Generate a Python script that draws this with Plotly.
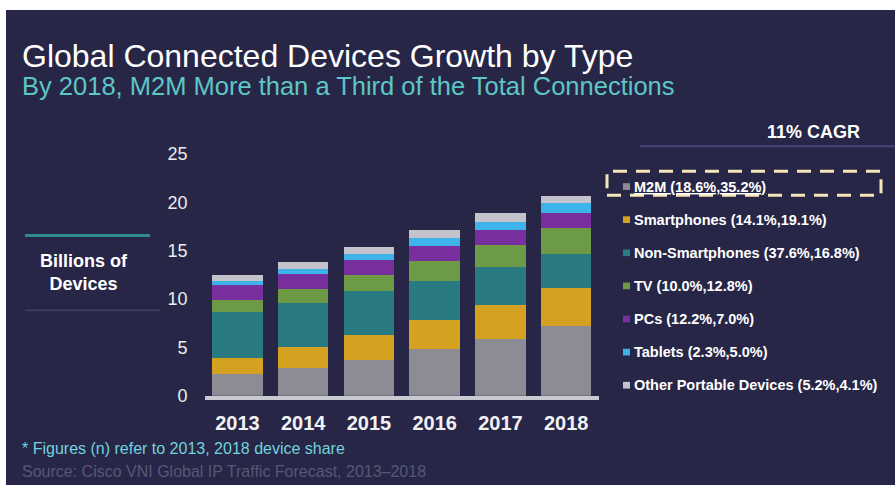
import plotly.graph_objects as go

# ---------------- data ----------------
years = ["2013", "2014", "2015", "2016", "2017", "2018"]
series_names = ["M2M", "Smartphones", "Non-Smartphones", "TV", "PCs", "Tablets", "Other Portable Devices"]
m2m = [2.3, 2.9, 3.7, 4.8, 5.9, 7.2]
smartphones = [1.6, 2.1, 2.6, 3.0, 3.5, 3.9]
non_smartphones = [4.8, 4.6, 4.5, 4.1, 3.9, 3.6]
tv = [1.2, 1.4, 1.7, 2.0, 2.3, 2.6]
pcs = [1.6, 1.6, 1.5, 1.6, 1.5, 1.6]
tablets = [0.4, 0.5, 0.7, 0.8, 0.9, 1.0]
other_portable = [0.6, 0.7, 0.7, 0.8, 0.9, 0.8]
share_2013 = [18.6, 14.1, 37.6, 10.0, 12.2, 2.3, 5.2]
share_2018 = [35.2, 19.1, 16.8, 12.8, 7.0, 5.0, 4.1]
total_labels = {"2013": "12", "2018": "21"}
y_ticks = [0, 5, 10, 15, 20, 25]

series_values = [m2m, smartphones, non_smartphones, tv, pcs, tablets, other_portable]
colors = ["#8d8c95", "#d4a120", "#2a7a82", "#6d9a44", "#7a2f9f", "#3eb3ea", "#c4c3cb"]

BG = "#272647"
W, H = 895, 495
FONT = "Liberation Sans, Arial"


def px(x):
    return x / W


def py(y):
    return 1 - y / H


fig = go.Figure()
for name, vals, col in zip(series_names, series_values, colors):
    fig.add_trace(go.Bar(x=years, y=vals, name=name, marker=dict(color=col, line=dict(width=0)),
                         showlegend=False, hoverinfo="y+name"))

totals = [sum(v[i] for v in series_values) for i in range(len(years))]

shapes = []
annotations = []

# dark background panel (white strip on the left edge)
shapes.append(dict(type="rect", xref="paper", yref="paper", x0=px(6), x1=1, y0=0, y1=1,
                   fillcolor=BG, line=dict(width=0), layer="below"))

# total labels above bars
for i, yr in enumerate(years):
    if yr in total_labels:
        annotations.append(dict(x=yr, y=totals[i], xref="x", yref="y", text="<b>%s</b>" % total_labels[yr],
                                showarrow=False, yanchor="bottom", yshift=8, xshift=-10,
                                font=dict(family=FONT, size=29, color="#ffffff")))

# title and subtitle
annotations.append(dict(x=px(20), y=py(48), xref="paper", yref="paper", xanchor="left", yanchor="middle",
                        text="Global Connected Devices Growth by Type", showarrow=False,
                        font=dict(family=FONT, size=32, color="#ffffff")))
annotations.append(dict(x=px(20), y=py(79), xref="paper", yref="paper", xanchor="left", yanchor="middle",
                        text="By 2018, M2M More than a Third of the Total Connections", showarrow=False,
                        font=dict(family=FONT, size=25.5, color="#5ec6c4")))

# Billions of Devices label + decorative lines
annotations.append(dict(x=px(84), y=py(274), xref="paper", yref="paper", xanchor="center", yanchor="middle",
                        text="<b>Billions of<br>Devices</b>", showarrow=False,
                        font=dict(family=FONT, size=18, color="#ffffff")))
shapes.append(dict(type="line", xref="paper", yref="paper", x0=px(25), x1=px(150), y0=py(235), y1=py(235),
                   line=dict(color="#2b8b91", width=3)))
shapes.append(dict(type="line", xref="paper", yref="paper", x0=px(25), x1=px(160), y0=py(313), y1=py(313),
                   line=dict(color="#3b3a62", width=2)))

# CAGR header
annotations.append(dict(x=px(813), y=py(127), xref="paper", yref="paper", xanchor="center", yanchor="middle",
                        text="<b>11% CAGR</b>", showarrow=False,
                        font=dict(family=FONT, size=18, color="#ffffff")))
shapes.append(dict(type="line", xref="paper", yref="paper", x0=px(640), x1=1, y0=py(142), y1=py(142),
                   line=dict(color="#46467a", width=2)))

# custom legend
for i, (name, col) in enumerate(zip(series_names, colors)):
    yc = 184 + i * 34.5
    label = "%s (%.1f%%,%.1f%%)" % (name, share_2013[i], share_2018[i])
    if i == 0:
        label = "<u>" + label + "</u>"
    shapes.append(dict(type="rect", xref="paper", yref="paper", x0=px(623), x1=px(630),
                       y0=py(yc + 3.5), y1=py(yc - 3.5), fillcolor=col, line=dict(width=0)))
    annotations.append(dict(x=px(632), y=py(yc), xref="paper", yref="paper", xanchor="left", yanchor="middle",
                            text="<b>%s</b>" % label, showarrow=False,
                            font=dict(family=FONT, size=14.5, color="#ffffff")))

# dashed highlight box around M2M
shapes.append(dict(type="rect", xref="paper", yref="paper", x0=px(607), x1=px(881), y0=py(193), y1=py(168),
                   line=dict(color="#f6e6b9", width=3, dash="14px,9px"), fillcolor="rgba(0,0,0,0)"))

# footnotes
annotations.append(dict(x=px(20), y=py(457), xref="paper", yref="paper", xanchor="left", yanchor="middle",
                        text="* Figures (n) refer to 2013, 2018 device share", showarrow=False,
                        font=dict(family=FONT, size=16, color="#72d2de")))
annotations.append(dict(x=px(20), y=py(481), xref="paper", yref="paper", xanchor="left", yanchor="middle",
                        text="Source: Cisco VNI Global IP Traffic Forecast, 2013\u20132018", showarrow=False,
                        font=dict(family=FONT, size=16, color="#575779")))

fig.update_layout(
    width=W, height=H,
    margin=dict(l=0, r=0, t=0, b=0),
    paper_bgcolor="#ffffff",
    plot_bgcolor="rgba(0,0,0,0)",
    barmode="stack",
    bargap=0.23,
    shapes=shapes,
    annotations=annotations,
    showlegend=False,
    xaxis=dict(domain=[px(204.5), px(599)], range=[-0.5, 5.5], showgrid=False, zeroline=False,
               showline=True, linewidth=4, linecolor="#c9c9d1", ticks="", ticklabelstandoff=6,
               tickfont=dict(family=FONT, size=20, color="#f2f2f5"),
               tickprefix="<b>", ticksuffix="</b>"),
    yaxis=dict(domain=[py(402), py(150)], range=[0, 25], tickvals=y_ticks, showgrid=False, zeroline=False,
               showline=False, ticks="", ticklabelstandoff=16,
               tickfont=dict(family=FONT, size=18, color="#ececf0")),
)

fig.write_html("out.html", post_script="document.body.style.margin='0px';")
